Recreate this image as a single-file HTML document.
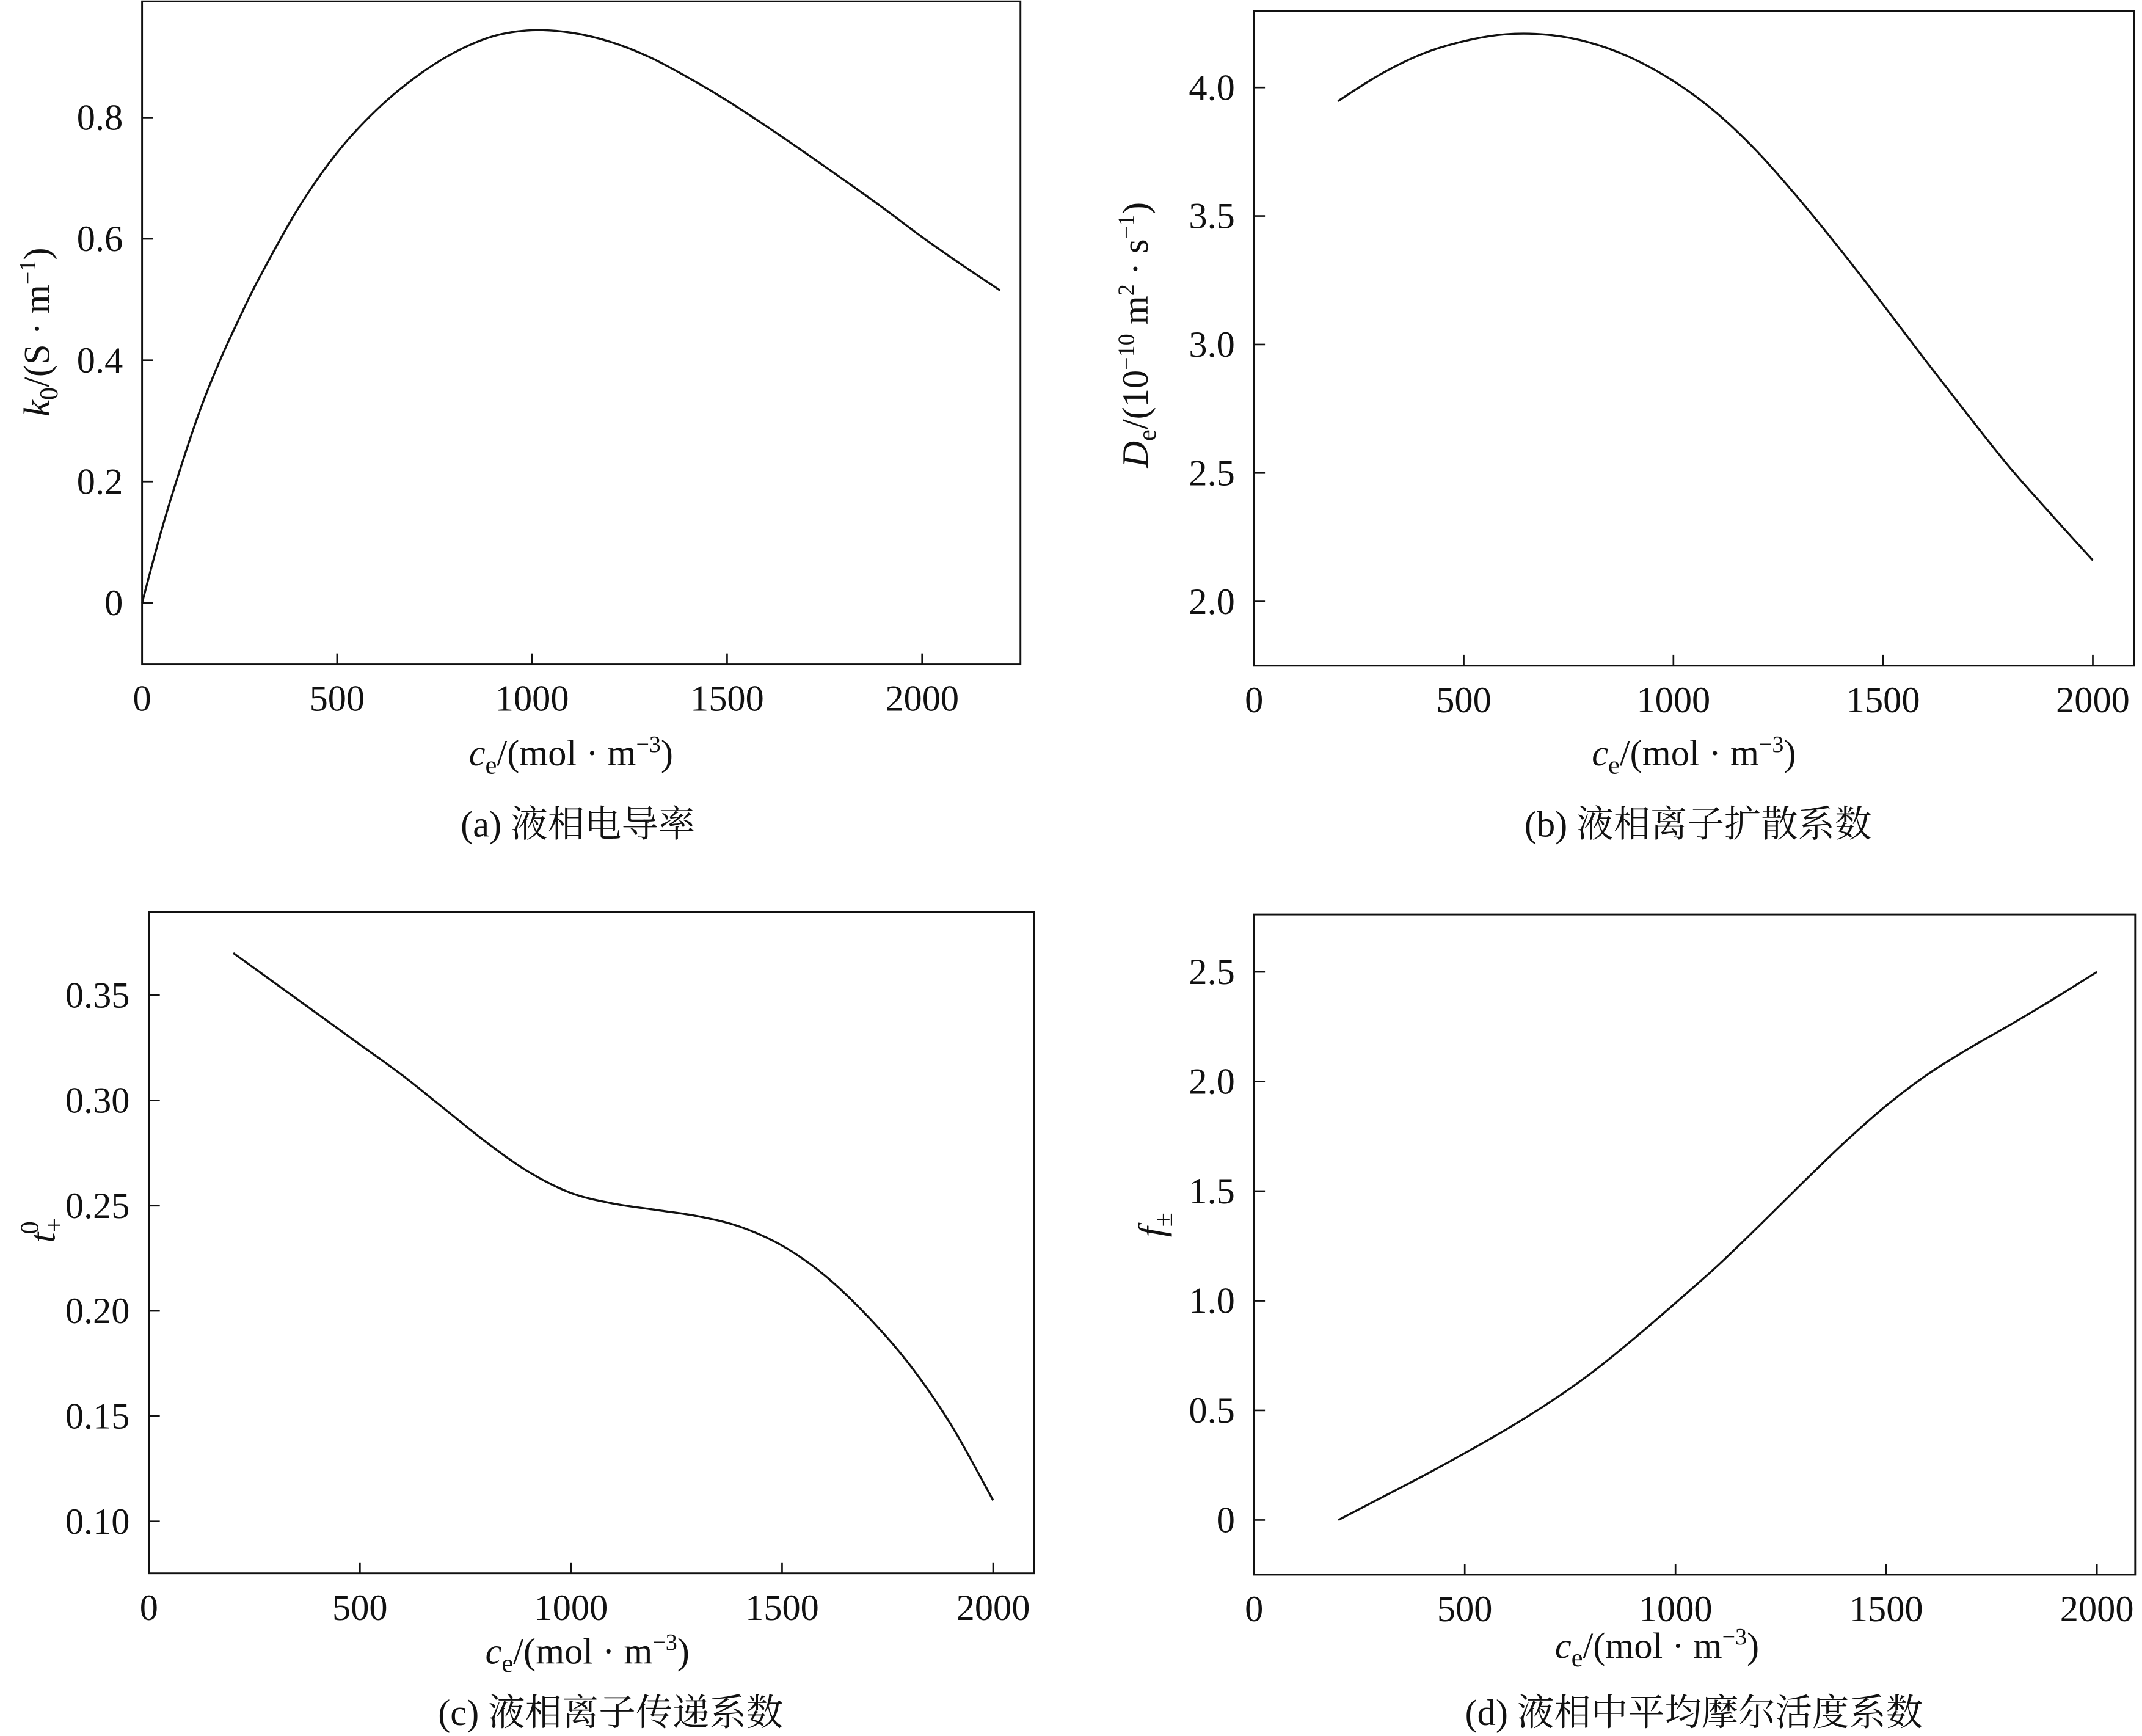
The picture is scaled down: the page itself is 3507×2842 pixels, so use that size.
<!DOCTYPE html>
<html><head><meta charset="utf-8"><style>
html,body{margin:0;padding:0;background:#fff;}
svg{display:block;}
text{font-family:"Liberation Serif","Noto Serif CJK SC",serif;fill:#111;}
</style></head><body>
<svg id="fig" width="3507" height="2842" viewBox="0 0 1568 1270" preserveAspectRatio="none" xmlns="http://www.w3.org/2000/svg">
<rect width="1568" height="1270" fill="#fff"/>
</svg>
<script>
const NS="http://www.w3.org/2000/svg";
// ---- Panel data ----
const cA=[0,50,100,150,200,250,300,400,500,600,700,800,900,1000,1100,1200,1300,1400,1500,1600,1700,1800,1900,2000,2100,2200];
const kA=[0,0.12,0.225,0.32,0.40,0.47,0.535,0.65,0.742,0.812,0.866,0.907,0.934,0.944,0.94,0.925,0.9,0.866,0.828,0.786,0.742,0.697,0.651,0.603,0.558,0.515];
const cB=[200,300,400,500,600,700,800,900,1000,1100,1200,1300,1400,1500,1600,1700,1800,1900,2000];
const dB=[3.947,4.05,4.13,4.18,4.207,4.205,4.175,4.115,4.025,3.905,3.75,3.565,3.365,3.155,2.94,2.73,2.525,2.34,2.16];
const cC=[200,300,400,500,600,700,800,900,1000,1100,1200,1300,1400,1500,1600,1700,1800,1900,2000];
const tC=[0.370,0.3555,0.341,0.3265,0.312,0.296,0.280,0.266,0.256,0.251,0.248,0.245,0.240,0.231,0.217,0.198,0.175,0.146,0.110];
const cD=[200,300,400,500,600,700,800,900,1000,1100,1200,1300,1400,1500,1600,1700,1800,1900,2000];
const fD=[0,0.1,0.2,0.305,0.415,0.535,0.67,0.825,0.99,1.16,1.345,1.535,1.72,1.89,2.035,2.155,2.265,2.38,2.5];
const xTicks=[0,500,1000,1500,2000];
const yTicksA=[0,0.2,0.4,0.6,0.8];
const yTicksB=[2.0,2.5,3.0,3.5,4.0];
const yTicksC=[0.10,0.15,0.20,0.25,0.30,0.35];
const yTicksD=[0,0.5,1.0,1.5,2.0,2.5];

const svg=document.getElementById('fig');
function el(tag,attrs,parent){const e=document.createElementNS(NS,tag);for(const k in attrs)e.setAttribute(k,attrs[k]);(parent||svg).appendChild(e);return e;}
function lin(d0,d1,r0,r1){return v=>r0+(v-d0)/(d1-d0)*(r1-r0);}
function smoothPath(pts){
  let d='M'+pts[0][0].toFixed(2)+','+pts[0][1].toFixed(2);
  for(let i=0;i<pts.length-1;i++){
    const p0=pts[i-1]||pts[i],p1=pts[i],p2=pts[i+1],p3=pts[i+2]||p2;
    const c1=[p1[0]+(p2[0]-p0[0])/6,p1[1]+(p2[1]-p0[1])/6];
    const c2=[p2[0]-(p3[0]-p1[0])/6,p2[1]-(p3[1]-p1[1])/6];
    d+=' C'+c1[0].toFixed(2)+','+c1[1].toFixed(2)+' '+c2[0].toFixed(2)+','+c2[1].toFixed(2)+' '+p2[0].toFixed(2)+','+p2[1].toFixed(2);
  }
  return d;
}
function panel(cfg){
  const g=el('g',{});
  
  
  const box=el('rect',{x:cfg.L,y:cfg.T,width:cfg.R-cfg.L,height:cfg.B-cfg.T,fill:'none',stroke:'#111','stroke-width':1.3},g);
  
  
  const xs=cfg.xs, ys=cfg.ys;
  cfg.xt.forEach(v=>{
    const x=xs(v);
    if(v!==0){const t=el('line',{x1:x,x2:x,y1:cfg.B,y2:cfg.B-8,stroke:'#111','stroke-width':1.2},g);
      
      }
    const lb=el('text',{x:x,y:cfg.B+34,'text-anchor':'middle','font-size':27},g);
    lb.textContent=String(v);
    
    
  });
  cfg.yt.forEach(v=>{
    const y=ys(v);
    const t=el('line',{x1:cfg.L,x2:cfg.L+8,y1:y,y2:y,stroke:'#111','stroke-width':1.2},g);
    
    
    const lb=el('text',{x:cfg.L-14,y:y+9,'text-anchor':'end','font-size':27},g);
    lb.textContent=(v===0)?'0':v.toFixed(cfg.dec);
    
    
  });
  const pts=cfg.cx.map((c,i)=>[xs(c),ys(cfg.vy[i])]);
  const p=el('path',{d:smoothPath(pts),fill:'none',stroke:'#111','stroke-width':1.5},g);
  
  
  const xt=el('text',{x:cfg.xtX,y:cfg.xtY,'text-anchor':'middle','font-size':27},g);
  xt.innerHTML='<tspan font-style="italic">c</tspan><tspan font-size="19" dy="6">e</tspan><tspan dy="-6">/(mol · m</tspan><tspan font-size="17" dy="-10">−3</tspan><tspan dy="10">)</tspan>';
  
  
  const yt=el('text',{transform:'translate('+cfg.ytX+','+cfg.ytY+') rotate(-90)','text-anchor':'middle','font-size':27},g);
  yt.innerHTML=cfg.ytHTML;
  
  
  const cap=el('text',{x:cfg.capX,y:cfg.capY,'text-anchor':'middle','font-size':27},g);
  cap.textContent=cfg.cap;
  
  
}
panel({name:'panel-a-conductivity',L:104,R:747,T:1,B:486,xs:lin(0,2000,104,675),ys:lin(0,0.8,441,86),xt:xTicks,yt:yTicksA,dec:1,cx:cA,vy:kA,
  xtX:418,xtY:560,ytX:36,ytY:243,capX:423,capY:612,cap:'(a) 液相电导率',
  ytHTML:'<tspan font-style="italic">k</tspan><tspan font-size="19" dy="6">0</tspan><tspan dy="-6">/(S · m</tspan><tspan font-size="17" dy="-10">−1</tspan><tspan dy="10">)</tspan>'});
panel({name:'panel-b-diffusion',L:918,R:1562,T:8,B:487,xs:lin(0,2000,918,1532),ys:lin(2.0,4.0,440,64),xt:xTicks,yt:yTicksB,dec:1,cx:cB,vy:dB,
  xtX:1240,xtY:560,ytX:840,ytY:245,capX:1243,capY:612,cap:'(b) 液相离子扩散系数',
  ytHTML:'<tspan font-style="italic">D</tspan><tspan font-size="19" dy="6">e</tspan><tspan dy="-6">/(10</tspan><tspan font-size="17" dy="-10">−10</tspan><tspan dy="10"> m</tspan><tspan font-size="17" dy="-10">2</tspan><tspan dy="10"> · s</tspan><tspan font-size="17" dy="-10">−1</tspan><tspan dy="10">)</tspan>'});
panel({name:'panel-c-transference',L:109,R:757,T:667,B:1151,xs:lin(0,2000,109,727),ys:lin(0.10,0.35,1113,728),xt:xTicks,yt:yTicksC,dec:2,cx:cC,vy:tC,
  xtX:430,xtY:1217,ytX:40,ytY:900,capX:447,capY:1262,cap:'(c) 液相离子传递系数',
  ytHTML:'<tspan font-style="italic">t</tspan><tspan font-size="19" dy="6">+</tspan><tspan font-size="19" dx="-12" dy="-18">0</tspan>'});
panel({name:'panel-d-activity',L:918,R:1563,T:669,B:1152,xs:lin(0,2000,918,1535),ys:lin(0,2.5,1112,711),xt:xTicks,yt:yTicksD,dec:1,cx:cD,vy:fD,
  xtX:1213,xtY:1213,ytX:852,ytY:896,capX:1240,capY:1262,cap:'(d) 液相中平均摩尔活度系数',
  ytHTML:'<tspan font-style="italic">f</tspan><tspan font-size="19" dy="6">±</tspan>'});
</script>
</body></html>
